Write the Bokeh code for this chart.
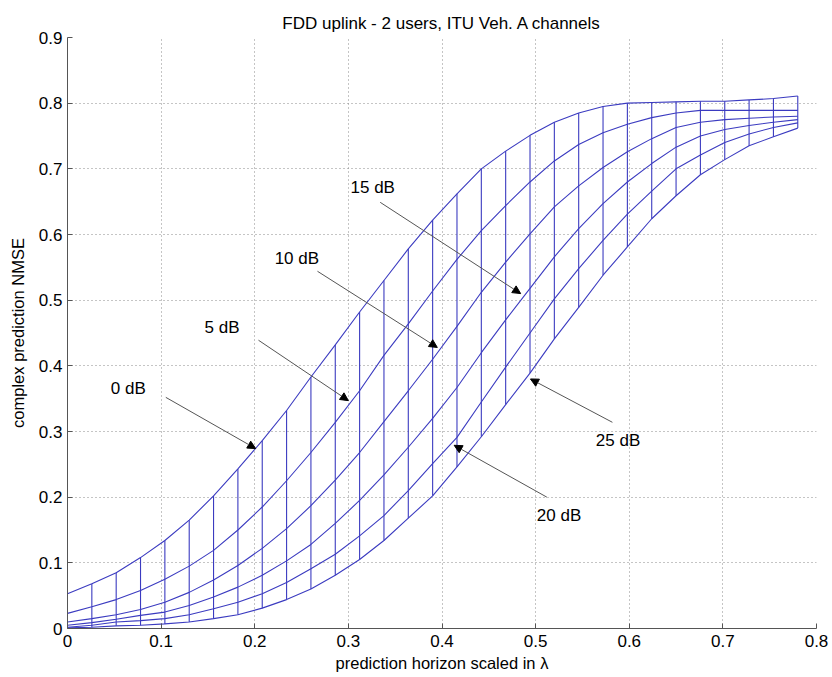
from bokeh.plotting import figure
from bokeh.models import Range1d, FixedTicker, NumeralTickFormatter, Label, Arrow, NormalHead
from bokeh.embed import file_html
from bokeh.resources import INLINE

# prediction horizon samples (in wavelengths)
horizon = [0.0, 0.026, 0.052, 0.078, 0.104, 0.13, 0.156, 0.182, 0.208, 0.234,
           0.26, 0.286, 0.312, 0.338, 0.364, 0.39, 0.416, 0.442, 0.468, 0.494,
           0.52, 0.546, 0.572, 0.598, 0.624, 0.65, 0.676, 0.702, 0.728, 0.754, 0.78]

nmse_0dB = [0.053, 0.068, 0.085, 0.108, 0.134, 0.165, 0.202, 0.243, 0.286, 0.332,
            0.383, 0.432, 0.482, 0.530, 0.578, 0.622, 0.662, 0.700, 0.727, 0.751,
            0.771, 0.785, 0.795, 0.800, 0.801, 0.802, 0.803, 0.803, 0.805, 0.807, 0.811]
nmse_5dB = [0.023, 0.033, 0.044, 0.058, 0.075, 0.095, 0.119, 0.150, 0.185, 0.225,
            0.268, 0.314, 0.362, 0.416, 0.464, 0.514, 0.562, 0.606, 0.644, 0.680,
            0.712, 0.737, 0.755, 0.768, 0.778, 0.785, 0.789, 0.789, 0.789, 0.789, 0.789]
nmse_10dB = [0.010, 0.015, 0.021, 0.029, 0.040, 0.055, 0.074, 0.096, 0.122, 0.152,
             0.187, 0.226, 0.268, 0.315, 0.362, 0.410, 0.460, 0.512, 0.558, 0.601,
             0.642, 0.674, 0.702, 0.726, 0.746, 0.763, 0.771, 0.775, 0.777, 0.779, 0.780]
nmse_15dB = [0.005, 0.009, 0.014, 0.020, 0.025, 0.035, 0.048, 0.063, 0.081, 0.103,
             0.128, 0.160, 0.195, 0.234, 0.276, 0.320, 0.367, 0.420, 0.470, 0.518,
             0.566, 0.609, 0.647, 0.680, 0.708, 0.733, 0.750, 0.760, 0.766, 0.771, 0.775]
nmse_20dB = [0.002, 0.005, 0.010, 0.012, 0.015, 0.021, 0.030, 0.040, 0.053, 0.070,
             0.091, 0.113, 0.141, 0.172, 0.210, 0.251, 0.291, 0.345, 0.398, 0.450,
             0.502, 0.548, 0.591, 0.631, 0.666, 0.700, 0.721, 0.740, 0.753, 0.763, 0.770]
nmse_25dB = [0.001, 0.002, 0.004, 0.005, 0.007, 0.010, 0.015, 0.021, 0.031, 0.044,
             0.060, 0.081, 0.105, 0.134, 0.168, 0.202, 0.246, 0.292, 0.341, 0.389,
             0.441, 0.489, 0.538, 0.581, 0.624, 0.659, 0.691, 0.714, 0.735, 0.749, 0.762]

curves = [nmse_0dB, nmse_5dB, nmse_10dB, nmse_15dB, nmse_20dB, nmse_25dB]

x_ticks = [0, 0.1, 0.2, 0.3, 0.4, 0.5, 0.6, 0.7, 0.8]
y_ticks = [0, 0.1, 0.2, 0.3, 0.4, 0.5, 0.6, 0.7, 0.8, 0.9]

# annotation labels and arrows (data coordinates)
ann_text = ["0 dB", "5 dB", "10 dB", "15 dB", "20 dB", "25 dB"]
ann_tx = [0.065, 0.165, 0.245, 0.326, 0.525, 0.588]
ann_ty = [0.366, 0.458, 0.564, 0.672, 0.172, 0.286]
arr_x0 = [0.105, 0.204, 0.267, 0.334, 0.512, 0.582]
arr_y0 = [0.352, 0.439, 0.544, 0.649, 0.200, 0.314]
arr_x1 = [0.201, 0.300, 0.395, 0.484, 0.413, 0.4945]
arr_y1 = [0.274, 0.347, 0.428, 0.510, 0.279, 0.380]

FONT = "Liberation Sans"
MESH = "#3b3bc0"

p = figure(width=832, height=677, output_backend="svg", toolbar_location=None,
           x_range=Range1d(0, 0.8), y_range=Range1d(0, 0.9),
           min_border_left=67, min_border_right=16, min_border_top=37, min_border_bottom=49,
           title="FDD uplink - 2 users, ITU Veh. A channels")
p.outline_line_color = None
p.background_fill_color = "white"
p.border_fill_color = "white"

p.title.align = "center"
p.title.text_font = FONT
p.title.text_font_size = "17px"
p.title.text_font_style = "normal"
p.title.text_color = "black"

for ax, ticks in ((p.xaxis, x_ticks), (p.yaxis, y_ticks)):
    ax.ticker = FixedTicker(ticks=ticks)
    ax.formatter = NumeralTickFormatter(format="0.[0]")
    ax.major_tick_in = 5
    ax.major_tick_out = 0
    ax.minor_tick_line_color = None
    ax.axis_line_color = "#555555"
    ax.major_tick_line_color = "#555555"
    ax.major_label_text_font = FONT
    ax.major_label_text_font_size = "17px"
    ax.major_label_text_color = "black"
    ax.axis_label_text_font = FONT
    ax.axis_label_text_font_size = "16.5px"
    ax.axis_label_text_font_style = "normal"
    ax.axis_label_text_color = "black"

p.xaxis.axis_label = "prediction horizon scaled in λ"
p.yaxis.axis_label = "complex prediction NMSE"
p.xaxis.major_label_standoff = 6
p.xaxis.axis_label_standoff = 4
p.yaxis.major_label_standoff = 5
p.yaxis.axis_label_standoff = 9

for g in (p.xgrid, p.ygrid):
    g.grid_line_color = "#8a8a8a"
    g.grid_line_dash = "1 3"
    g.grid_line_width = 1

# mesh: one line per SNR, plus vertical connectors at each horizon sample
for c in curves:
    p.line(horizon, c, line_color=MESH, line_width=1.1)

vx = horizon[1:]
vlo = [min(c[i] for c in curves) for i in range(1, len(horizon))]
vhi = [max(c[i] for c in curves) for i in range(1, len(horizon))]
p.segment(x0=vx, y0=vlo, x1=vx, y1=vhi, line_color=MESH, line_width=1.1)

for t, tx, ty, x0, y0, x1, y1 in zip(ann_text, ann_tx, ann_ty, arr_x0, arr_y0, arr_x1, arr_y1):
    p.add_layout(Arrow(x_start=x0, y_start=y0, x_end=x1, y_end=y1,
                       line_color="#555555", line_width=1,
                       end=NormalHead(size=8, fill_color="black", line_color="black")))
    p.add_layout(Label(x=tx, y=ty, text=t, text_align="center", text_baseline="middle",
                       text_font=FONT, text_font_size="17px", text_color="black"))

open("out.html", "w").write(file_html(p, INLINE))
